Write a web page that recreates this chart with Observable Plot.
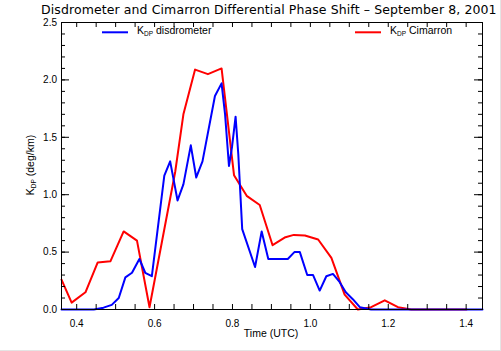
<!DOCTYPE html>
<html><head><meta charset="utf-8">
<script src="https://cdn.jsdelivr.net/npm/d3@7"></script>
<script src="https://cdn.jsdelivr.net/npm/@observablehq/plot@0.6"></script>
<style>
html,body{margin:0;padding:0;background:#fff;}
#wrap{position:relative;width:501px;height:351px;overflow:hidden;}
#wrap svg{display:block;}
#edge{position:absolute;left:0;top:0;width:501px;height:351px;box-sizing:border-box;border-right:1px solid #e4e4e4;border-bottom:1px solid #e4e4e4;pointer-events:none;}
</style></head><body>
<div id="wrap"><div id="edge"></div></div>
<script>
const titleText = "Disdrometer and Cimarron Differential Phase Shift – September 8, 2001";
const xLabel = "Time (UTC)";
const yLabelMain = "K", yLabelSub = "DP", yLabelRest = " (deg/km)";
const seriesNames = ["disdrometer", "Cimarron"];
const seriesColors = ["#0000ff", "#ff0000"];

// Disdrometer KDP (blue)
const disdroTime = [0.361,0.444,0.469,0.490,0.508,0.525,0.542,0.561,0.576,0.593,0.625,0.640,0.659,0.674,0.693,0.707,0.723,0.755,0.772,0.781,0.791,0.799,0.808,0.815,0.825,0.858,0.875,0.892,0.942,0.959,0.973,0.992,1.007,1.024,1.041,1.058,1.075,1.091,1.109,1.127,1.156,1.442];
const disdroKdp  = [0.0,0.0,0.016,0.04,0.10,0.28,0.32,0.44,0.32,0.29,1.167,1.29,0.95,1.09,1.43,1.15,1.29,1.86,1.97,1.70,1.25,1.42,1.68,1.35,0.70,0.37,0.68,0.44,0.44,0.50,0.50,0.30,0.30,0.165,0.29,0.31,0.24,0.15,0.09,0.02,0.0,0.0];

// Cimarron KDP (red)
const cimTime = [0.361,0.387,0.4225,0.454,0.4865,0.5206,0.5548,0.587,0.620,0.653,0.674,0.704,0.737,0.772,0.804,0.8365,0.870,0.903,0.936,0.9575,0.986,1.020,1.054,1.088,1.122,1.156,1.191,1.225,1.259,1.401];
const cimKdp  = [0.26,0.06,0.15,0.41,0.42,0.68,0.60,0.02,0.61,1.20,1.70,2.09,2.05,2.10,1.17,0.99,0.91,0.56,0.63,0.65,0.645,0.61,0.45,0.13,0.0,0.02,0.08,0.02,0.0,0.0];

const xMajorTicks = [0.4,0.6,0.8,1.0,1.2,1.4];
const xMinorTicks = [0.4,0.45,0.5,0.55,0.6,0.65,0.7,0.75,0.8,0.85,0.9,0.95,1.0,1.05,1.1,1.15,1.2,1.25,1.3,1.35,1.4];
const yMajorTicks = [0.0,0.5,1.0,1.5,2.0,2.5];
const yMinorTicks = [0.0,0.1,0.2,0.3,0.4,0.5,0.6,0.7,0.8,0.9,1.0,1.1,1.2,1.3,1.4,1.5,1.6,1.7,1.8,1.9,2.0,2.1,2.2,2.3,2.4,2.5];

const W = 501, H = 351, mL = 61, mR = 19, mT = 22, mB = 42;
const xDom = [0.361, 1.442], yDom = [0, 2.5];
const pxX = (W - mL - mR) / (xDom[1] - xDom[0]);
const pxY = (H - mT - mB) / (yDom[1] - yDom[0]);

const disdro = disdroTime.map((t, i) => ({t, k: disdroKdp[i]}));
const cim = cimTime.map((t, i) => ({t, k: cimKdp[i]}));

const xt = 5 / pxY;
const ytMaj = 8 / pxX, ytMin = 4 / pxX;

const chart = Plot.plot({
  width: W, height: H,
  marginLeft: mL, marginRight: mR, marginTop: mT, marginBottom: mB,
  x: {domain: xDom},
  y: {domain: yDom},
  style: {fontFamily: "Liberation Sans, Arial, sans-serif", fontSize: "10px", color: "black", background: "white", overflow: "hidden"},
  marks: [
    Plot.line(cim, {x: "t", y: "k", stroke: seriesColors[1], strokeWidth: 2}),
    Plot.line(disdro, {x: "t", y: "k", stroke: seriesColors[0], strokeWidth: 2}),
    Plot.ruleX(xMinorTicks, {x: d => d, y1: () => yDom[0], y2: () => yDom[0] + xt, stroke: "black"}),
    Plot.ruleX(xMinorTicks, {x: d => d, y1: () => yDom[1], y2: () => yDom[1] - xt, stroke: "black"}),
    Plot.ruleY(yMinorTicks, {y: d => d, x1: () => xDom[0], x2: () => xDom[0] + ytMin, stroke: "black"}),
    Plot.ruleY(yMajorTicks, {y: d => d, x1: () => xDom[0], x2: () => xDom[0] + ytMaj, stroke: "black"}),
    Plot.ruleY(yMinorTicks, {y: d => d, x1: () => xDom[1], x2: () => xDom[1] - ytMin, stroke: "black"}),
    Plot.ruleY(yMajorTicks, {y: d => d, x1: () => xDom[1], x2: () => xDom[1] - ytMaj, stroke: "black"}),
    Plot.axisX({ticks: xMajorTicks, tickSize: 0, tickPadding: 10, tickFormat: d => d.toFixed(1), label: null}),
    Plot.axisY({ticks: yMajorTicks, tickSize: 0, tickPadding: 4.5, tickFormat: d => d.toFixed(1), label: null}),
    Plot.frame({stroke: "black", strokeWidth: 1})
  ]
});

const wrap = document.getElementById("wrap");
wrap.insertBefore(chart, wrap.firstChild);

const svg = d3.select(chart);
const lab = "Liberation Sans, Arial, sans-serif";

svg.append("text")
  .attr("x", 41).attr("y", 14)
  .attr("text-anchor", "start")
  .attr("font-family", "DejaVu Sans").attr("font-size", 12.5)
  .attr("letter-spacing", 0.1)
  .attr("fill", "black")
  .text(titleText);

svg.append("text")
  .attr("x", 271).attr("y", 337)
  .attr("text-anchor", "middle")
  .attr("font-family", lab).attr("font-size", 10.5)
  .attr("fill", "black")
  .text(xLabel);

const yl = svg.append("text")
  .attr("transform", "translate(33.5,165) rotate(-90)")
  .attr("text-anchor", "middle")
  .attr("font-family", lab).attr("font-size", 10.5)
  .attr("fill", "black");
yl.append("tspan").text(yLabelMain);
yl.append("tspan").attr("font-size", 6.5).attr("dy", 2).text(yLabelSub);
yl.append("tspan").attr("dy", -2).text(yLabelRest);

const legendPos = [{x0: 102, x1: 128, tx: 137}, {x0: 355, x1: 381, tx: 390}];
seriesNames.forEach((name, i) => {
  const p = legendPos[i];
  svg.append("line")
    .attr("x1", p.x0).attr("x2", p.x1).attr("y1", 32.3).attr("y2", 32.3)
    .attr("stroke", seriesColors[i]).attr("stroke-width", 2);
  const t = svg.append("text")
    .attr("x", p.tx).attr("y", 33.5)
    .attr("text-anchor", "start")
    .attr("font-family", lab).attr("font-size", 10.5)
    .attr("fill", "black");
  t.append("tspan").text(yLabelMain);
  t.append("tspan").attr("font-size", 6.5).attr("dy", 2).text(yLabelSub);
  t.append("tspan").attr("dy", -2).text(" " + name);
});
</script>
</body></html>
